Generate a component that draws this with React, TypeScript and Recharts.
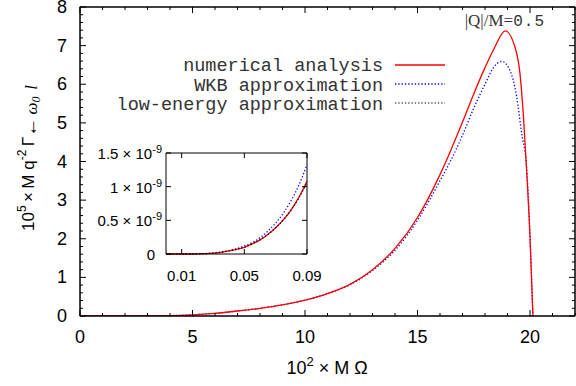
import React from "react";
import { LineChart, Line, XAxis, YAxis } from "recharts";

// main plot: 10^2 M Omega vs 10^5 M q^-2 Gamma
const numericalX = [0, 2, 3, 4, 5, 6, 7, 8, 9, 10, 11, 12, 13, 14, 15, 16, 16.5, 17, 17.5, 18, 18.4, 18.9, 19.3, 19.55, 19.7, 19.85, 20.0, 20.13];
const numericalY = [0, 0, 0.002, 0.01, 0.03, 0.07, 0.13, 0.2, 0.29, 0.41, 0.58, 0.82, 1.2, 1.75, 2.55, 3.66, 4.32, 5.02, 5.75, 6.43, 6.92, 7.38, 7.02, 6.3, 5.25, 3.78, 2.05, 0];
const wkbX = [0, 2, 3, 4, 5, 6, 7, 8, 9, 10, 11, 12, 13, 14, 15, 16, 16.5, 17, 17.5, 18, 18.4, 18.75, 19.1, 19.4, 19.63, 19.85, 20.03, 20.13];
const wkbY = [0, 0, 0.002, 0.01, 0.03, 0.07, 0.13, 0.2, 0.29, 0.41, 0.58, 0.81, 1.18, 1.7, 2.48, 3.5, 4.05, 4.68, 5.38, 6.0, 6.45, 6.59, 6.37, 5.7, 4.73, 3.83, 1.63, 0];

// inset: small M Omega, values in units of 1e-9
const insetX = [0, 0.01, 0.02, 0.03, 0.035, 0.04, 0.045, 0.05, 0.055, 0.06, 0.065, 0.07, 0.075, 0.08, 0.085, 0.09];
const insetNumerical = [0, 0, 0.003, 0.012, 0.025, 0.045, 0.07, 0.1, 0.15, 0.21, 0.29, 0.39, 0.51, 0.66, 0.85, 1.08];
const insetWkb = [0, 0, 0.003, 0.014, 0.028, 0.05, 0.08, 0.12, 0.17, 0.24, 0.34, 0.46, 0.61, 0.8, 1.03, 1.33];
const insetLowEnergy = [0, 0, 0.003, 0.012, 0.025, 0.045, 0.07, 0.1, 0.15, 0.21, 0.29, 0.39, 0.51, 0.66, 0.84, 1.06];

const xMajor = [0, 5, 10, 15, 20];
const yMajor = [0, 1, 2, 3, 4, 5, 6, 7, 8];
const insetXTicks = [0.01, 0.05, 0.09];
const insetYTicks = [0, 0.5, 1, 1.5];

// minor ticks every 1 on x, every 0.2 on y
const xTicks = Array.from({ length: 23 }, (_, i) => i);
const yTicks = Array.from({ length: 41 }, (_, i) => Math.round(i * 2) / 10);

const numerical = numericalX.map((x, i) => ({ x, y: numericalY[i] }));
const wkb = wkbX.map((x, i) => ({ x, y: wkbY[i] }));
const inset = insetX.map((x, i) => ({
  x,
  num: insetNumerical[i],
  wkb: insetWkb[i],
  low: insetLowEnergy[i],
}));

const SANS = "'Liberation Sans', Arial, sans-serif";
const MONO = "'Liberation Mono', 'Courier New', monospace";
const SERIF = "'Liberation Serif', serif";

const isMajor = (v: number, list: number[]) => list.some((m) => Math.abs(m - v) < 1e-6);

function BottomTick(props: any) {
  const { x, y, payload } = props;
  const major = isMajor(payload.value, xMajor);
  return (
    <g>
      <line x1={x} x2={x} y1={y} y2={y - (major ? 6 : 3)} stroke="#000" />
      {major && (
        <text x={x} y={y + 27} textAnchor="middle" fontSize={18} fontFamily={SANS} fill="#000">
          {payload.value}
        </text>
      )}
    </g>
  );
}

function TopTick(props: any) {
  const { x, y, payload } = props;
  const major = isMajor(payload.value, xMajor);
  return <line x1={x} x2={x} y1={y} y2={y + (major ? 6 : 3)} stroke="#000" />;
}

function LeftTick(props: any) {
  const { x, y, payload } = props;
  const major = isMajor(payload.value, yMajor);
  return (
    <g>
      <line x1={x} x2={x + (major ? 6 : 3)} y1={y} y2={y} stroke="#000" />
      {major && (
        <text x={x - 13} y={y + 6} textAnchor="end" fontSize={18} fontFamily={SANS} fill="#000">
          {payload.value}
        </text>
      )}
    </g>
  );
}

function RightTick(props: any) {
  const { x, y, payload } = props;
  const major = isMajor(payload.value, yMajor);
  return <line x1={x} x2={x - (major ? 6 : 3)} y1={y} y2={y} stroke="#000" />;
}

function InsetBottomTick(props: any) {
  const { x, y, payload } = props;
  return (
    <g>
      <line x1={x} x2={x} y1={y} y2={y - 5} stroke="#000" />
      <text x={x} y={y + 27} textAnchor="middle" fontSize={15} fontFamily={SANS} fill="#000">
        {payload.value}
      </text>
    </g>
  );
}

function InsetTopTick(props: any) {
  const { x, y } = props;
  return <line x1={x} x2={x} y1={y} y2={y + 5} stroke="#000" />;
}

function InsetLeftTick(props: any) {
  const { x, y, payload } = props;
  const v = payload.value;
  return (
    <g>
      <line x1={x} x2={x + 5} y1={y} y2={y} stroke="#000" />
      {v === 0 ? (
        <text x={x - 11} y={y + 6} textAnchor="end" fontSize={15} fontFamily={SANS} fill="#000">
          0
        </text>
      ) : (
        <text x={x - 4} y={y + 6} textAnchor="end" fontSize={15} fontFamily={SANS} fill="#000">
          {v} × 10<tspan fontSize={11} dy={-6}>-9</tspan>
        </text>
      )}
    </g>
  );
}

function InsetRightTick(props: any) {
  const { x, y } = props;
  return <line x1={x} x2={x - 5} y1={y} y2={y} stroke="#000" />;
}

export default function App() {
  return (
    <div style={{ position: "absolute", left: 0, top: 0, width: 576, height: 386, background: "#fff", overflow: "hidden" }}>
      {/* chart is a bit larger than the frame so the mirrored axes get real room */}
      <div style={{ position: "absolute", left: 0, top: -20 }}>
        <LineChart width={600} height={406} data={numerical} margin={{ top: 0, right: 0, bottom: 30, left: 20 }}>
          <XAxis
            xAxisId="mainBottom"
            dataKey="x"
            type="number"
            domain={[0, 22]}
            ticks={xTicks}
            interval={0}
            tickSize={0}
            tickMargin={0}
            height={40}
            stroke="#000"
            tick={(p: any) => <BottomTick {...p} />}
            allowDataOverflow
          />
          <XAxis
            xAxisId="mainTop"
            orientation="top"
            dataKey="x"
            type="number"
            domain={[0, 22]}
            ticks={xTicks}
            interval={0}
            tickSize={0}
            tickMargin={0}
            height={27}
            stroke="#000"
            tick={(p: any) => <TopTick {...p} />}
          />
          <YAxis
            yAxisId="mainLeft"
            type="number"
            domain={[0, 8]}
            ticks={yTicks}
            interval={0}
            tickSize={0}
            tickMargin={0}
            width={60}
            stroke="#000"
            tick={(p: any) => <LeftTick {...p} />}
            allowDataOverflow
          />
          <YAxis
            yAxisId="mainRight"
            orientation="right"
            type="number"
            domain={[0, 8]}
            ticks={yTicks}
            interval={0}
            tickSize={0}
            tickMargin={0}
            width={25}
            stroke="#000"
            tick={(p: any) => <RightTick {...p} />}
          />
          <Line xAxisId="mainTop" yAxisId="mainRight" dataKey="y" stroke="none" dot={false} activeDot={false} isAnimationActive={false} />
          <Line
            xAxisId="mainBottom"
            yAxisId="mainLeft"
            data={wkb}
            dataKey="y"
            type="monotone"
            stroke="#0000ff"
            strokeWidth={1.3}
            strokeDasharray="1.3 2"
            dot={false}
            isAnimationActive={false}
          />
          <Line
            xAxisId="mainBottom"
            yAxisId="mainLeft"
            dataKey="y"
            type="monotone"
            stroke="#ff0000"
            strokeWidth={1.3}
            dot={false}
            isAnimationActive={false}
          />
        </LineChart>
      </div>

      <div style={{ position: "absolute", left: 90, top: 140 }}>
        <LineChart width={250} height={150} data={inset} margin={{ top: 3, right: 23, bottom: 0, left: 0 }}>
          <XAxis
            xAxisId="insetBottom"
            dataKey="x"
            type="number"
            domain={[0, 0.09]}
            ticks={insetXTicks}
            interval={0}
            tickSize={0}
            tickMargin={0}
            height={36}
            stroke="#000"
            tick={(p: any) => <InsetBottomTick {...p} />}
          />
          <XAxis
            xAxisId="insetTop"
            orientation="top"
            dataKey="x"
            type="number"
            domain={[0, 0.09]}
            ticks={insetXTicks}
            interval={0}
            tickSize={0}
            tickMargin={0}
            height={10}
            stroke="#000"
            tick={(p: any) => <InsetTopTick {...p} />}
          />
          <YAxis
            yAxisId="insetLeft"
            type="number"
            domain={[0, 1.5]}
            ticks={insetYTicks}
            interval={0}
            tickSize={0}
            tickMargin={0}
            width={76}
            stroke="#000"
            tick={(p: any) => <InsetLeftTick {...p} />}
          />
          <YAxis
            yAxisId="insetRight"
            orientation="right"
            type="number"
            domain={[0, 1.5]}
            ticks={insetYTicks}
            interval={0}
            tickSize={0}
            tickMargin={0}
            width={10}
            stroke="#000"
            tick={(p: any) => <InsetRightTick {...p} />}
          />
          <Line xAxisId="insetTop" yAxisId="insetRight" dataKey="num" stroke="none" dot={false} activeDot={false} isAnimationActive={false} />
          <Line xAxisId="insetBottom" yAxisId="insetLeft" dataKey="wkb" type="monotone" stroke="#0000ff" strokeWidth={1.2} strokeDasharray="1.3 2" dot={false} isAnimationActive={false} />
          <Line xAxisId="insetBottom" yAxisId="insetLeft" dataKey="num" type="monotone" stroke="#ff0000" strokeWidth={1.3} dot={false} isAnimationActive={false} />
          <Line xAxisId="insetBottom" yAxisId="insetLeft" dataKey="low" type="monotone" stroke="#000" strokeWidth={1.2} strokeDasharray="1.3 2" dot={false} isAnimationActive={false} />
        </LineChart>
      </div>

      <svg width={576} height={386} style={{ position: "absolute", left: 0, top: 0, pointerEvents: "none" }}>
        {/* outer plot frame, same edges as the main axes */}
        <rect x={80} y={7} width={495} height={309} fill="none" stroke="#000" />
        <text x={545} y={26} textAnchor="end" fill="#333">
          <tspan fontSize={17} fontFamily={SERIF}>|Q|/M=</tspan>
          <tspan fontSize={16} fontFamily={MONO} letterSpacing={1}>0.5</tspan>
        </text>
        <g fontFamily={MONO} fontSize={18.5} fill="#333" textAnchor="end">
          <text x={383} y={71}>numerical analysis</text>
          <text x={383} y={91}>WKB approximation</text>
          <text x={383} y={110}>low-energy approximation</text>
        </g>
        <line x1={395} x2={445} y1={65} y2={65} stroke="#ff0000" strokeWidth={1.3} />
        <line x1={395} x2={445} y1={84} y2={84} stroke="#0000ff" strokeWidth={1.3} strokeDasharray="1.3 2" />
        <line x1={395} x2={445} y1={103} y2={103} stroke="#000" strokeWidth={1.2} strokeDasharray="1.3 2" />

        <text x={327} y={374} textAnchor="middle" fontSize={18} fontFamily={SANS} fill="#000">
          10<tspan fontSize={13} dy={-8}>2</tspan>
          <tspan dy={8}> × M Ω</tspan>
        </text>
        <text transform="translate(34,231) rotate(-90)" textAnchor="start" fontSize={17} fontFamily={SANS} fill="#000">
          10<tspan fontSize={12} dy={-8}>5</tspan>
          <tspan dy={8}>{"\u2009×\u2009M q"}</tspan>
          <tspan fontSize={12} dy={-8}>-2</tspan>
          <tspan dy={8}>{"\u2009Γ"}</tspan>
          <tspan fontSize={19} dy={3}>←</tspan>
          <tspan fontSize={17} fontStyle="italic" fontFamily={SERIF}>{"\u2009ω"}</tspan>
          <tspan fontSize={12} dy={3} fontStyle="italic" fontFamily={SERIF}>0</tspan>
          <tspan fontSize={17} dy={-3} fontStyle="italic" fontFamily={SERIF}>{"\u2009\u2009l"}</tspan>
        </text>
      </svg>
    </div>
  );
}
